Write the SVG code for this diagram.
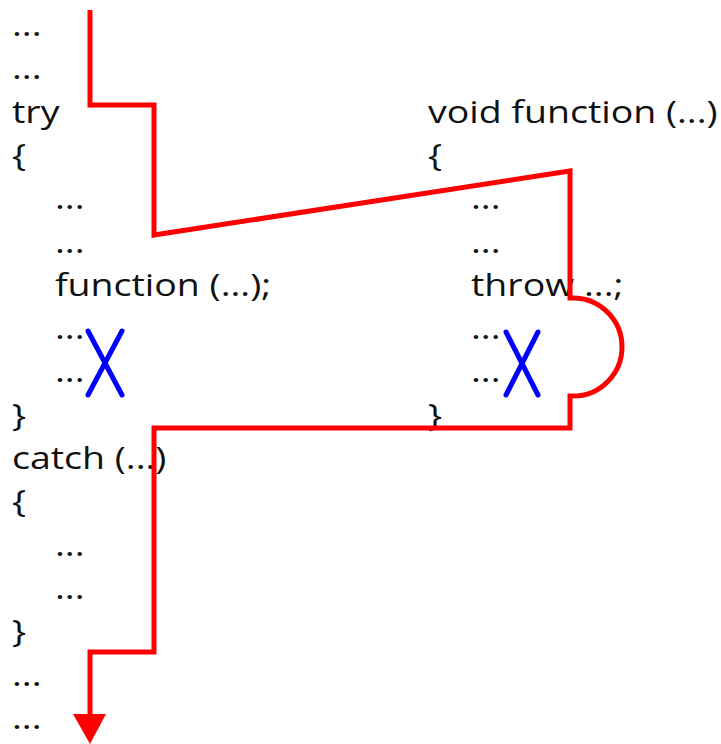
<svg xmlns="http://www.w3.org/2000/svg" width="721" height="744" viewBox="0 0 721 744">
<style>
text{font-family:"Open Sans","Noto Sans","DejaVu Sans",sans-serif;font-size:31.5px;fill:#111}
.flow{fill:none;stroke:#ff0000;stroke-width:5;stroke-linejoin:miter}
.x{stroke:#0000ff;stroke-width:5;stroke-linecap:round}
</style>
<g id="caller" transform="scale(1.19,1)">
<text x="10.08" y="36">...</text>
<text x="10.08" y="79">...</text>
<text x="10.08" y="123">try</text>
<text x="10.08" y="166">{</text>
<text x="46.22" y="209">...</text>
<text x="46.22" y="253">...</text>
<text x="46.22" y="296">function (...);</text>
<text x="46.22" y="339">...</text>
<text x="46.22" y="382">...</text>
<text x="10.08" y="426">}</text>
<text x="10.08" y="469">catch (...)</text>
<text x="10.08" y="512">{</text>
<text x="46.22" y="556">...</text>
<text x="46.22" y="599">...</text>
<text x="10.08" y="642">}</text>
<text x="10.08" y="686">...</text>
<text x="10.08" y="729">...</text>
</g>
<g id="callee" transform="scale(1.19,1)">
<text x="359.66" y="123">void function (...)</text>
<text x="359.66" y="166">{</text>
<text x="395.8" y="209">...</text>
<text x="395.8" y="253">...</text>
<text x="395.8" y="296">throw ...;</text>
<text x="395.8" y="339">...</text>
<text x="395.8" y="382">...</text>
<text x="359.66" y="426">}</text>
</g>
<g id="skip-marks">
<path class="x" d="M88,331 L122,395 M122,331 L88,395"/>
<path class="x" d="M506,332 L538,395 M538,332 L506,395"/>
</g>
<g id="connectors">
<path class="flow" d="M90,10 V105 H154 V235 L570,171 V298 H573 A49,49 0 0 1 573,396 H570 V428 H154 V652 H90 V716"/>
<path d="M73,714 L106,714 L90,744 z" fill="#ff0000"/>
</g>
</svg>
